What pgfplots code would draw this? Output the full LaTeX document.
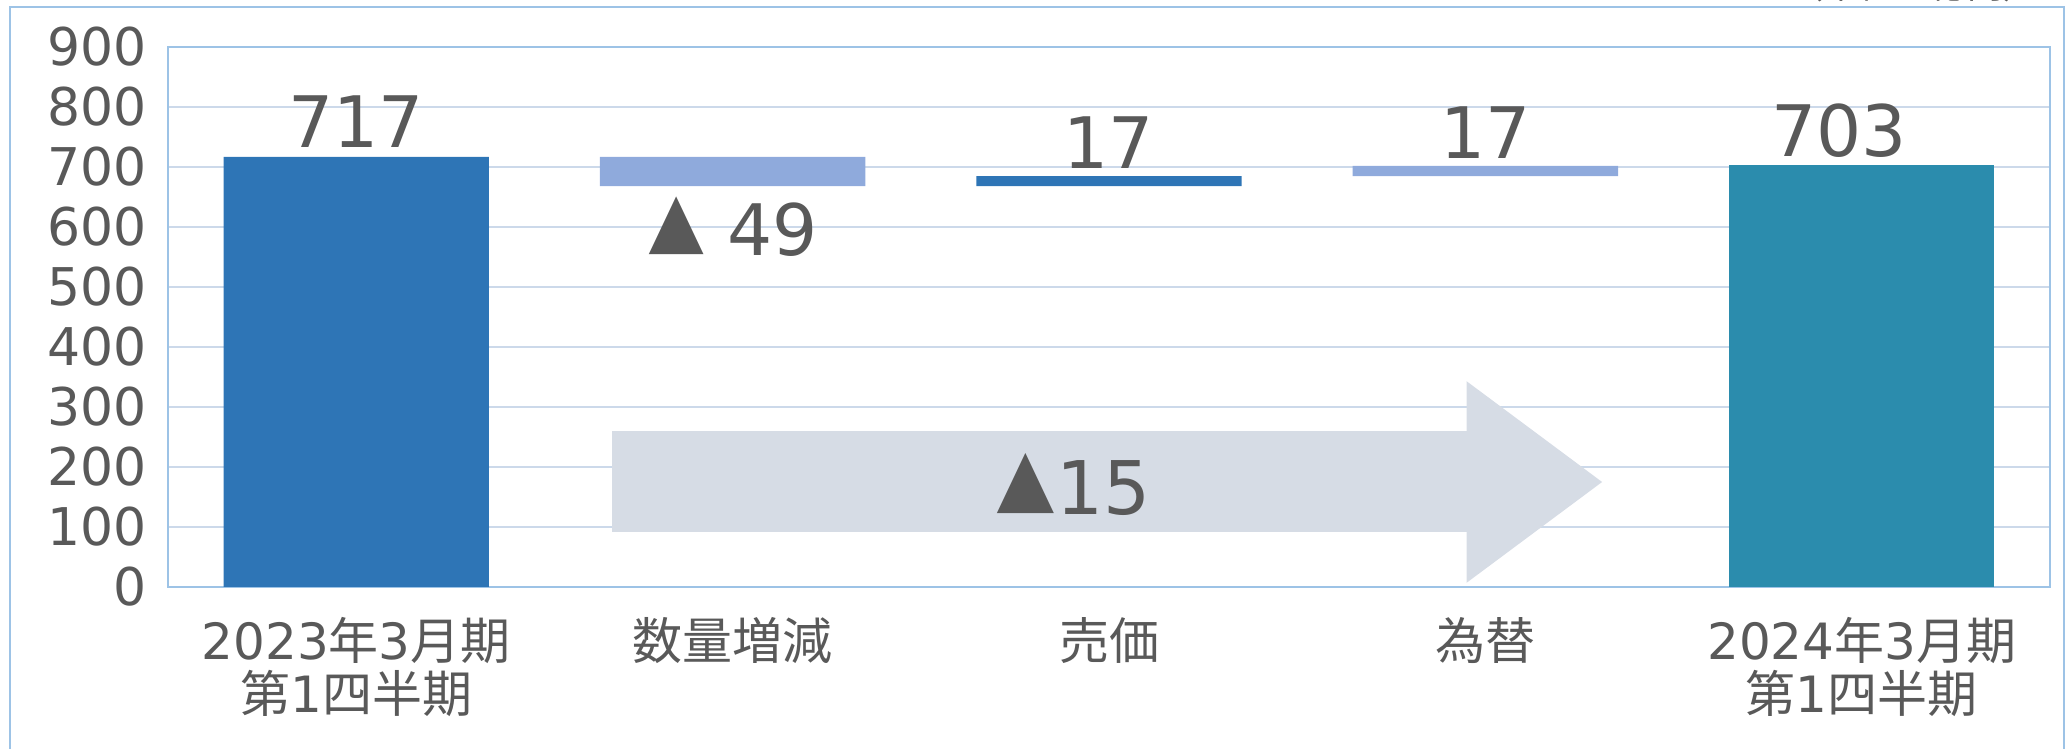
\documentclass[border=0pt]{standalone}
\usepackage{fontspec}
\setmainfont{DejaVu Sans}
\newfontfamily\cjk{Noto Sans CJK JP}
\usepackage{graphicx}
\usepackage{pgfplots}
\pgfplotsset{compat=1.18}
\definecolor{darkb}{HTML}{2E75B6}
\definecolor{lightb}{HTML}{8FAADC}
\definecolor{teal2}{HTML}{2B8CAD}
\definecolor{arrowc}{HTML}{D6DCE5}
\definecolor{txt}{HTML}{595959}
\definecolor{gridc}{HTML}{CCD9EA}
\definecolor{framec}{HTML}{9DC3E6}
\newcommand{\tri}{\scalebox{0.82}[1]{\cjk ▲}}
\begin{document}
\begin{tikzpicture}
\useasboundingbox (0,0) rectangle (1035.5pt,374.5pt);
\clip (0,0) rectangle (1035.5pt,374.5pt);
\draw[framec, line width=1pt] (5pt,371pt) rectangle (1032pt,-10pt);
\node[anchor=base east, font=\cjk\fontsize{18}{18}\selectfont, text=txt, inner sep=0pt] at (1020pt,375pt) {（単位：億円）};
\begin{axis}[at={(84pt,81pt)}, anchor=south west, scale only axis,
  width=941pt, height=270pt,
  xmin=-0.5, xmax=4.5, ymin=0, ymax=900,
  ytick={0,100,...,900}, xtick={0,...,4},
  xticklabels={{2023{\cjk 年}3{\cjk 月期}\\{\cjk 第}1{\cjk 四半期}},{\cjk 数量増減},{\cjk 売価},{\cjk 為替},{2024{\cjk 年}3{\cjk 月期}\\{\cjk 第}1{\cjk 四半期}}},
  ybar stacked, bar width=0.705,
  major tick length=0pt, ymajorgrids,
  grid style={gridc, line width=1pt},
  axis line style={framec, line width=1pt},
  xticklabel style={text=txt, font=\fontsize{25}{26.5}\selectfont, anchor=north, inner sep=0pt, yshift=-15pt, align=center},
  yticklabel style={text=txt, font=\fontsize{26}{26}\selectfont, anchor=east, inner sep=0pt, xshift=-10.5pt},
  /pgf/number format/assume math mode=true,
]
\addplot[draw=none, fill=none] coordinates {(0,0) (1,668) (2,668) (3,685) (4,0)};
\addplot[draw=none, fill=darkb] coordinates {(0,717) (1,0) (2,17) (3,0) (4,0)};
\addplot[draw=none, fill=lightb] coordinates {(0,0) (1,49) (2,0) (3,17) (4,0)};
\addplot[draw=none, fill=teal2] coordinates {(0,0) (1,0) (2,0) (3,0) (4,703)};
\fill[arrowc] (axis cs:0.68,92) -- (axis cs:2.95,92) -- (axis cs:2.95,7) -- (axis cs:3.31,175) -- (axis cs:2.95,343) -- (axis cs:2.95,260) -- (axis cs:0.68,260) -- cycle;
\coordinate (l0) at (axis cs:0,732);
\coordinate (l1) at (axis cs:1,553);
\coordinate (l2) at (axis cs:2,697);
\coordinate (l3) at (axis cs:3,715);
\coordinate (l4) at (axis cs:3.94,718);
\coordinate (l5) at (axis cs:1.905,120);
\end{axis}
\begin{scope}[every node/.style={anchor=base, text=txt, inner sep=0pt, font=\fontsize{35.5}{36}\selectfont}]
\node at (l0) {717};
\node at (l1) {\tri\ 49};
\node at (l2) {17};
\node at (l3) {17};
\node at (l4) {703};
\node[font=\fontsize{37}{38}\selectfont] at (l5) {\tri 15};
\end{scope}
\end{tikzpicture}
\end{document}
